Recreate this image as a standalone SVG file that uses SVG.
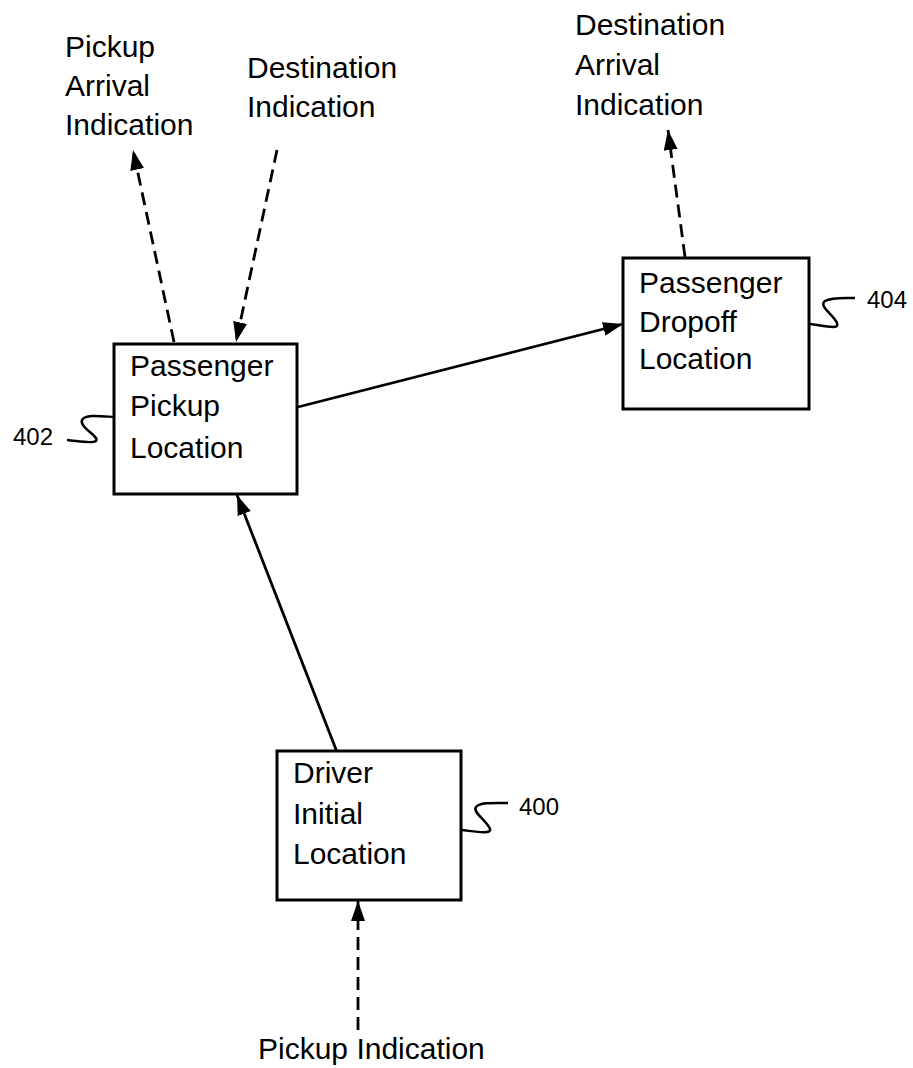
<svg xmlns="http://www.w3.org/2000/svg" width="913" height="1068" viewBox="0 0 913 1068">
<style>
.box{fill:#fff;stroke:#000;stroke-width:3}
.t{font-family:"Liberation Sans",Arial,sans-serif;font-size:30px;fill:#000}
.ref{font-family:"Liberation Sans",Arial,sans-serif;font-size:24px;fill:#000}
.sq{fill:none;stroke:#000;stroke-width:2.5}
.solid{fill:none;stroke:#000;stroke-width:2.8}
.dash{fill:none;stroke:#000;stroke-width:2.8;stroke-dasharray:13 7}
</style>
<defs>
<marker id="ah" viewBox="0 0 20 14" refX="20" refY="7" markerWidth="20" markerHeight="14" markerUnits="userSpaceOnUse" orient="auto">
<path d="M0,0 L20,7 L0,14 Z" fill="#000"/>
</marker>
</defs>
<g id="connectors">
<line class="solid" x1="337" y1="752" x2="237" y2="495" marker-end="url(#ah)"/>
<line class="solid" x1="298" y1="407" x2="623" y2="324" marker-end="url(#ah)"/>
<line class="dash" x1="174" y1="342" x2="133" y2="150" marker-end="url(#ah)"/>
<line class="dash" x1="277" y1="150" x2="236" y2="342" marker-end="url(#ah)"/>
<line class="dash" x1="685" y1="257" x2="668" y2="130" marker-end="url(#ah)"/>
<line class="dash" x1="358" y1="1030" x2="358" y2="901" marker-end="url(#ah)"/>
</g>
<g id="labels">
<text class="t" x="65" y="57">Pickup</text>
<text class="t" x="65" y="96">Arrival</text>
<text class="t" x="65" y="135">Indication</text>
<text class="t" x="247" y="78">Destination</text>
<text class="t" x="247" y="117">Indication</text>
<text class="t" x="575" y="35">Destination</text>
<text class="t" x="575" y="75">Arrival</text>
<text class="t" x="575" y="115">Indication</text>
<text class="t" x="258" y="1059">Pickup Indication</text>
</g>
<g id="node402">
<rect class="box" x="114" y="344" width="183" height="150"/>
<text class="t" x="130" y="376">Passenger</text>
<text class="t" x="130" y="416">Pickup</text>
<text class="t" x="130" y="458">Location</text>
<path class="sq" d="M114,417 C100,416 85,414 82,420 C79,428 100,436 96,441 C92,444 78,441 67,440"/>
<text class="ref" x="13" y="445">402</text>
</g>
<g id="node404">
<rect class="box" x="623" y="258" width="186" height="151"/>
<text class="t" x="639" y="293">Passenger</text>
<text class="t" x="639" y="332">Dropoff</text>
<text class="t" x="639" y="369">Location</text>
<path class="sq" d="M810,324 C825,326 840,330 837,323 C834,315 818,306 825,301 C832,297 845,298 855,298"/>
<text class="ref" x="867" y="308">404</text>
</g>
<g id="node400">
<rect class="box" x="277" y="751" width="184" height="149"/>
<text class="t" x="293" y="783">Driver</text>
<text class="t" x="293" y="824">Initial</text>
<text class="t" x="293" y="864">Location</text>
<path class="sq" d="M461,830 C472,831 492,835 490,829 C487,821 472,812 476,807 C480,802 495,803 508,803"/>
<text class="ref" x="519" y="815">400</text>
</g>
</svg>
